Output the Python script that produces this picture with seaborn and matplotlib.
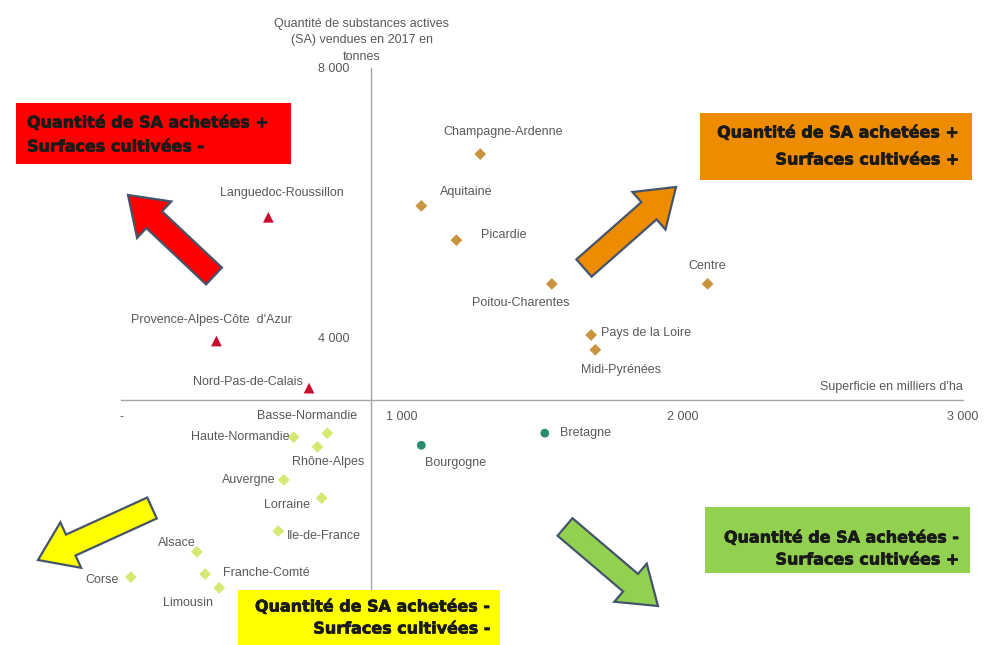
"""
Quantité de substances actives vendues en 2017 vs superficie cultivée, par région
"""

import pandas as pd
import matplotlib.pyplot as plt
import matplotlib.patheffects as pe
import seaborn as sns
from matplotlib.patches import FancyArrow, Rectangle

# ============================================
# Data
# ============================================

regions = ['Languedoc-Roussillon', "Provence-Alpes-Côte  d'Azur", 'Nord-Pas-de-Calais',
           'Champagne-Ardenne', 'Aquitaine', 'Picardie', 'Poitou-Charentes', 'Centre',
           'Pays de la Loire', 'Midi-Pyrénées',
           'Bretagne', 'Bourgogne',
           'Basse-Normandie', 'Haute-Normandie', 'Rhône-Alpes', 'Auvergne', 'Lorraine',
           'Ile-de-France', 'Alsace', 'Franche-Comté', 'Limousin', 'Corse']

# superficie en milliers d'ha
surface = [525, 340, 670,
           1280, 1070, 1195, 1535, 2090, 1675, 1690,
           1510, 1070,
           735, 615, 700, 580, 715, 560, 270, 300, 350, 35]

# quantité de SA vendues en 2017 (tonnes)
quantite = [5780, 3940, 3240,
            6720, 5950, 5440, 4790, 4790, 4030, 3810,
            2570, 2390,
            2570, 2510, 2365, 1875, 1605, 1115, 805, 475, 270, 430]

groupe = ['SA+ S-'] * 3 + ['SA+ S+'] * 7 + ['SA- S+'] * 2 + ['SA- S-'] * 10

x_ticks = [0, 1000, 2000, 3000]
x_ticklabels = ['-', '1 000', '2 000', '3 000']
y_ticks = [4000, 8000]
y_ticklabels = ['4 000', '8 000']

# where the axes cross (Excel style)
x_cross = 890
y_cross = 3060

df = pd.DataFrame({'region': regions, 'surface': surface,
                   'quantite': quantite, 'groupe': groupe})

# ============================================
# Styles
# ============================================

palette = {'SA+ S-': '#C8102E', 'SA+ S+': '#C8943E',
           'SA- S+': '#2A8C70', 'SA- S-': '#D4E872'}
markers = {'SA+ S-': '^', 'SA+ S+': 'D', 'SA- S+': 'o', 'SA- S-': 'D'}
sizes = {'SA+ S-': 60, 'SA+ S+': 36, 'SA- S+': 40, 'SA- S-': 36}

# label placement: (ha, dx, dy) in pixels, dy pointing down
label_pos = {
    'Languedoc-Roussillon': ('center', 14, -24),
    "Provence-Alpes-Côte  d'Azur": ('center', -5, -21),
    'Nord-Pas-de-Calais': ('right', -6, -6),
    'Champagne-Ardenne': ('center', 23, -22),
    'Aquitaine': ('left', 19, -14),
    'Picardie': ('left', 25, -5),
    'Poitou-Charentes': ('center', -31, 19),
    'Centre': ('center', 0, -18),
    'Pays de la Loire': ('left', 10, -2),
    'Midi-Pyrénées': ('center', 26, 20),
    'Bretagne': ('left', 15, 0),
    'Bourgogne': ('left', 4, 18),
    'Basse-Normandie': ('center', -20, -17),
    'Haute-Normandie': ('right', -4, 0),
    'Rhône-Alpes': ('center', 11, 15),
    'Auvergne': ('right', -8, 0),
    'Lorraine': ('right', -12, 7),
    'Ile-de-France': ('left', 9, 5),
    'Alsace': ('center', -20, -9),
    'Franche-Comté': ('left', 18, -1),
    'Limousin': ('center', -31, 15),
    'Corse': ('right', -12, 3),
}

sns.set_theme(style='white')
plt.rcParams['font.family'] = ['Liberation Sans', 'DejaVu Sans']

grey_txt = '#595959'
grey_axis = '#A6A6A6'

# ============================================
# Scatter
# ============================================

fig = plt.figure(figsize=(9.84, 6.45), dpi=100)
ax = fig.add_axes([121 / 984, 1 - 606 / 645, 842 / 984, 538 / 645])

sns.scatterplot(data=df, x='surface', y='quantite', hue='groupe', style='groupe',
                size='groupe', palette=palette, markers=markers, sizes=sizes,
                linewidth=0, legend=False, ax=ax, zorder=3)

ax.set_xlim(0, 3000)
ax.set_ylim(0, 8000)
ax.set_xlabel('')
ax.set_ylabel('')

for side in ['top', 'right']:
    ax.spines[side].set_visible(False)
ax.spines['left'].set_position(('data', x_cross))
ax.spines['bottom'].set_position(('data', y_cross))
for side in ['left', 'bottom']:
    ax.spines[side].set_color(grey_axis)
    ax.spines[side].set_linewidth(1)

ax.set_xticks(x_ticks)
ax.set_xticklabels(x_ticklabels)
ax.set_yticks(y_ticks)
ax.set_yticklabels(y_ticklabels)
ax.tick_params(axis='both', which='both', colors=grey_axis, labelcolor=grey_txt,
               labelsize=9, length=3, direction='inout')
ax.tick_params(axis='y', pad=14)
ax.tick_params(axis='x', pad=6)

for _, row in df.iterrows():
    ha, dx, dy = label_pos[row['region']]
    ax.annotate(row['region'], (row['surface'], row['quantite']),
                xytext=(dx, -dy), textcoords='offset pixels',
                ha=ha, va='center', fontsize=9, color=grey_txt)

# ============================================
# Overlay: axis titles, quadrant boxes and arrows (image pixel coords)
# ============================================

ov = fig.add_axes([0, 0, 1, 1], zorder=5)
ov.set_xlim(0, 984)
ov.set_ylim(645, 0)
ov.axis('off')

ov.text(362, 40, 'Quantité de substances actives\n(SA) vendues en 2017 en\ntonnes',
        ha='center', va='center', fontsize=9, color=grey_txt, linespacing=1.5)
ov.text(963, 387, "Superficie en milliers d'ha", ha='right', va='center',
        fontsize=9, color=grey_txt)

# boxes: (x0, y0, x1, y1, colour, text align, text x, line1 y, line2 y, line1, line2)
boxes = [
    (16, 103, 291, 164, '#FF0000', 'left', 27, 123, 147,
     'Quantité de SA achetées +', 'Surfaces cultivées -'),
    (700, 113, 972, 180, '#EE8C00', 'right', 960, 133, 160,
     'Quantité de SA achetées +', 'Surfaces cultivées +'),
    (705, 507, 970, 573, '#92D050', 'right', 960, 538, 560,
     'Quantité de SA achetées -', 'Surfaces cultivées +'),
    (238, 590, 500, 645, '#FFFF00', 'right', 491, 607, 629,
     'Quantité de SA achetées -', 'Surfaces cultivées -'),
]
box_font = ['DejaVu Sans']
stroke = [pe.withStroke(linewidth=0.5, foreground='#1A1A1A')]
for x0, y0, x1, y1, col, align, tx, ty1, ty2, l1, l2 in boxes:
    ov.add_patch(Rectangle((x0, y0), x1 - x0, y1 - y0, facecolor=col, edgecolor='none'))
    for ty, line in [(ty1, l1), (ty2, l2)]:
        ov.text(tx, ty, line, ha=align, va='center', fontsize=11.5, fontweight='bold',
                family=box_font, color='#1A1A1A', path_effects=stroke)

# arrows: tail -> tip
arrows = [
    ((214, 276), (128, 195), '#FF0000'),
    ((584, 268), (676, 187), '#EE8C00'),
    ((152, 508), (38, 560), '#FFFF00'),
    ((565, 527), (658, 606), '#92D050'),
]
for (xa, ya), (xb, yb), col in arrows:
    ov.add_patch(FancyArrow(xa, ya, xb - xa, yb - ya, width=23, head_width=50,
                            head_length=36, length_includes_head=True,
                            facecolor=col, edgecolor='#44546A', linewidth=1.6))

plt.savefig('out.png', dpi=100)
plt.close()
